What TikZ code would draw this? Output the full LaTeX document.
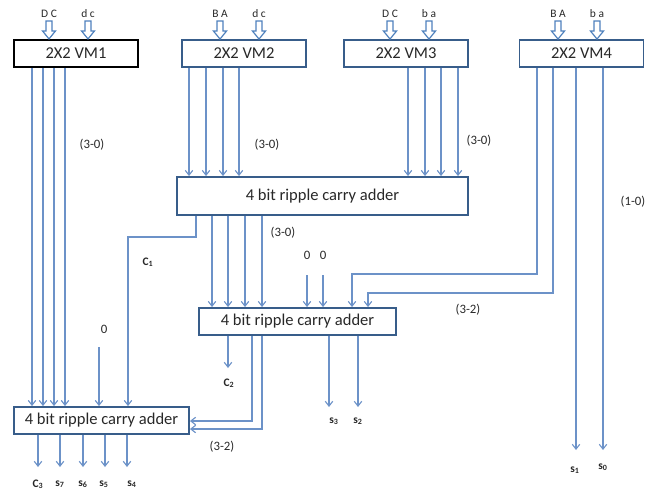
\documentclass[tikz,border=0pt]{standalone}
\usepackage{fontspec}
\setmainfont{Carlito}
\usetikzlibrary{arrows.meta}
\definecolor{wire}{RGB}{108,146,200}
\definecolor{boxc}{RGB}{56,93,138}
\definecolor{barrow}{RGB}{79,129,189}
\definecolor{txt}{RGB}{40,40,40}
\begin{document}
\begin{tikzpicture}[x=0.75pt,y=-0.75pt,
  boxn/.style={draw=boxc,line width=1.4pt,fill=white,inner sep=0pt,
    text=txt,font=\fontsize{12.4}{14}\selectfont},
  vmbox/.style={boxn,minimum width=93pt,minimum height=20.25pt},
  conn/.style={draw=wire,line width=0.85pt},
  arr/.style={conn,-{Straight Barb[length=3.6pt,width=5.6pt]}},
  lbl/.style={inner sep=0pt,text=txt,font=\fontsize{9.6}{11}\selectfont},
  inl/.style={inner sep=0pt,text=txt,font=\fontsize{8.6}{10}\selectfont},
  sig/.style={inner sep=0pt,text=txt,font=\bfseries\fontsize{8.6}{10}\selectfont},
  blk/.pic={\draw[barrow,fill=white,line width=0.9pt,line join=miter]
    (-3,-18) -- (3,-18) -- (3,-8) -- (6.5,-8) -- (0,0) -- (-6.5,-8) -- (-3,-8) -- cycle;}
]
\useasboundingbox (0,0) rectangle (655,489);

% multiplier boxes
\node[vmbox,draw=black,line width=1.6pt] (vm1) at (76,53.5) {2X2 VM1};
\node[vmbox] (vm2) at (244,53.5) {2X2 VM2};
\node[vmbox] (vm3) at (406,53.5) {2X2 VM3};
\node[vmbox] (vm4) at (581.5,53.5) {2X2 VM4};

% adders
\node[boxn,minimum width=218.25pt,minimum height=28.5pt] (ad1) at (322.5,196) {4 bit ripple carry adder};
\node[boxn,minimum width=147.75pt,minimum height=20.25pt] (ad2) at (297.5,321.5) {4 bit ripple carry adder};
\node[boxn,minimum width=131.25pt,minimum height=20.25pt] (ad3) at (101.5,420.5) {4 bit ripple carry adder};

% block input arrows and their labels
\foreach \n/\x/\t in {vm1/49/D C, vm1/88/d c, vm2/220/B A, vm2/259/d c,
                      vm3/390/D C, vm3/429/b a, vm4/558/B A, vm4/597/b a}{
  \pic at (\x,0 |- \n.north) {blk};
  \node[inl] at (\x,14) {\t};
}

% VM1 -> adder 3
\foreach \x in {32,43,54,65}
  \draw[arr] (\x,0 |- vm1.south) -- (\x,0 |- ad3.north);
% VM2 -> adder 1
\foreach \x in {189,206,223,239}
  \draw[arr] (\x,0 |- vm2.south) -- (\x,0 |- ad1.north);
% VM3 -> adder 1
\foreach \x in {408,425,441,458}
  \draw[arr] (\x,0 |- vm3.south) -- (\x,0 |- ad1.north);
% VM4 -> adder 2 and outputs
\draw[arr] (537,0 |- vm4.south) |- (352,274) -- (352,0 |- ad2.north);
\draw[arr] (553,0 |- vm4.south) |- (368,293) -- (368,0 |- ad2.north);
\draw[arr] (576,0 |- vm4.south) -- (576,450);
\draw[arr] (603,0 |- vm4.south) -- (603,450);

% adder 1 outputs
\draw[arr] (196,0 |- ad1.south) |- (128,237) -- (128,0 |- ad3.north);
\foreach \x in {212,228,245,262}
  \draw[arr] (\x,0 |- ad1.south) -- (\x,0 |- ad2.north);

% constant zeros
\coordinate (z1) at (307,275);
\coordinate (z2) at (323,275);
\coordinate (z3) at (99,347);
\draw[arr] (z1) -- (z1 |- ad2.north);
\draw[arr] (z2) -- (z2 |- ad2.north);
\draw[arr] (z3) -- (z3 |- ad3.north);
\node[lbl] at (307,255) {0};
\node[lbl] at (323,255) {0};
\node[lbl] at (104,329) {0};

% adder 2 outputs
\draw[arr] (228,0 |- ad2.south) -- (228,368);
\draw[arr] (252,0 |- ad2.south) |- (ad3.east |- 0,421);
\draw[arr] (262,0 |- ad2.south) |- (ad3.east |- 0,429);
\draw[arr] (329,0 |- ad2.south) -- (329,407);
\draw[arr] (358,0 |- ad2.south) -- (358,407);

% adder 3 outputs
\foreach \x in {38,60,83,105,127}
  \draw[arr] (\x,0 |- ad3.south) -- (\x,467);

% range labels
\node[lbl] at (92,145) {(3-0)};
\node[lbl] at (267,145) {(3-0)};
\node[lbl] at (479,141) {(3-0)};
\node[lbl] at (283,233) {(3-0)};
\node[lbl] at (633,202) {(1-0)};
\node[lbl] at (468,310) {(3-2)};
\node[lbl] at (222,447) {(3-2)};

% signal names
\node[sig] at (148,262) {C\textsubscript{1}};
\node[sig] at (229,383) {C\textsubscript{2}};
\node[sig] at (334,421) {s\textsubscript{3}};
\node[sig] at (358,421) {s\textsubscript{2}};
\node[sig] at (38,484) {C\textsubscript{3}};
\node[sig] at (60,484) {s\textsubscript{7}};
\node[sig] at (83,484) {s\textsubscript{6}};
\node[sig] at (104,484) {s\textsubscript{5}};
\node[sig] at (132,484) {s\textsubscript{4}};
\node[sig] at (575,470) {s\textsubscript{1}};
\node[sig] at (603,467) {s\textsubscript{0}};
\end{tikzpicture}
\end{document}
